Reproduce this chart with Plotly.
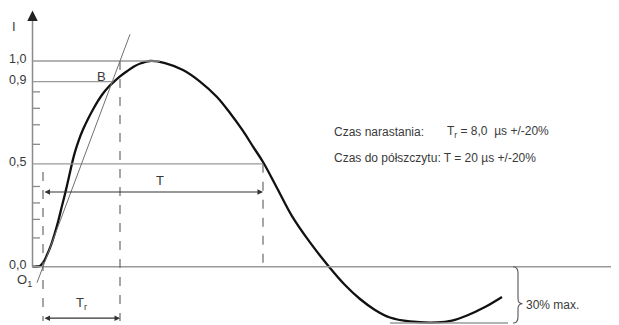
import plotly.graph_objects as go

# current waveform, time in arbitrary units with O1 at 0
wave_t = [-1.05, -0.6, -0.3, 0.05, 0.37, 0.8, 1.2, 1.55, 1.87, 2.15, 2.4, 2.65, 2.9, 3.2, 3.55,
          4.0, 4.5, 5.0, 5.5, 6.0, 6.5, 7.03, 7.7, 8.4, 9.1, 9.8, 10.7,
          12.2, 14.0, 15.7, 17.4, 18.7, 20.0, 21.0, 22.0, 23.4, 24.9, 26.7, 28.6, 30.2, 31.7,
          33.2, 34.7, 36.7, 39.4, 40.9, 42.4, 44.2, 45.9]
wave_i = [0.0, 0.001, 0.004, 0.023, 0.054, 0.105, 0.166, 0.227, 0.290, 0.344, 0.395, 0.448, 0.502, 0.558, 0.611,
          0.667, 0.718, 0.764, 0.806, 0.842, 0.871, 0.896, 0.925, 0.950, 0.973, 0.989, 1.0,
          0.990, 0.956, 0.900, 0.825, 0.747, 0.660, 0.584, 0.509, 0.383, 0.246, 0.118, 0.0, -0.089, -0.157,
          -0.210, -0.247, -0.266, -0.271, -0.262, -0.237, -0.196, -0.147]

level_values = [1.0, 0.9, 0.5, 0.0]
level_labels = ["1,0", "0,9", "0,5", "0,0"]
level_ends = [11.7, 7.03, 22.0, 57.6]
minor_ticks = [0.85, 0.77, 0.69, 0.595, 0.39, 0.31, 0.23, 0.14]

t_axis = -1.05
t_o1 = 0.0
t_b = 7.7
t_half = 22.0
i_min = -0.274
t_min_line = [34.7, 46.5]

X_RANGE = [-3.5, 57.6]
Y_RANGE = [-0.2834, 1.2577]
FONT = "Liberation Sans, Arial, sans-serif"
TXT = "#3a3a3a"
GREY = "#9a9a9a"
DASH = "#6a6a6a"

fig = go.Figure()

shapes = []
# axis
shapes.append(dict(type="line", x0=t_axis, x1=t_axis, y0=0, y1=1.215,
                   line=dict(color="#8a8a8a", width=1.5)))
# level lines
for v, end in zip(level_values, level_ends):
    shapes.append(dict(type="line", x0=t_axis, x1=end, y0=v, y1=v,
                       line=dict(color=GREY, width=1.6 if v == 0 else 1.4)))
# minor ticks
for v in minor_ticks:
    shapes.append(dict(type="line", x0=t_axis, x1=-0.3, y0=v, y1=v,
                       line=dict(color="#8a8a8a", width=1.3)))
# tangent through O1 and B
slope = 1.0 / (t_b - t_o1)
shapes.append(dict(type="line", x0=-0.6, x1=8.7, y0=slope * (-0.6 - t_o1), y1=slope * (8.7 - t_o1),
                   line=dict(color="#707070", width=1)))
# dashed verticals
for x, ya, yb in [(t_o1, 0.46, -0.264), (t_b, 1.0, -0.264), (t_half, 0.5, -0.016)]:
    shapes.append(dict(type="line", x0=x, x1=x, y0=ya, y1=yb,
                       line=dict(color=DASH, width=1.2, dash="dash")))
# grey line below minimum
shapes.append(dict(type="line", x0=t_min_line[0], x1=t_min_line[1], y0=i_min, y1=i_min,
                   line=dict(color=GREY, width=1.6)))
# brace for the 30% undershoot
bx, top, bot, tip = 47.5, 0.0, i_min, -0.18
brace = (f"M {bx-0.5},{top} Q {bx},{top} {bx},{top-0.03} L {bx},{tip+0.025} "
         f"Q {bx},{tip} {bx+0.45},{tip} Q {bx},{tip} {bx},{tip-0.025} "
         f"L {bx},{bot+0.03} Q {bx},{bot} {bx-0.5},{bot}")
shapes.append(dict(type="path", path=brace, line=dict(color="#555", width=1.1)))

fig.add_trace(go.Scatter(x=wave_t, y=wave_i, mode="lines",
                         line=dict(color="#111", width=2.3, shape="spline", smoothing=1.0),
                         hoverinfo="skip", showlegend=False))

ann = []
# axis arrow head
ann.append(dict(x=t_axis, y=1.245, ax=t_axis, ay=1.2, xref="x", yref="y", axref="x", ayref="y",
                text="", showarrow=True, arrowhead=2, arrowsize=1.4, arrowwidth=1.5,
                arrowcolor="#222", standoff=0))
# dimension arrows T and Tr
for y, x1 in [(0.363, t_half), (-0.25, t_b)]:
    ann.append(dict(x=x1, y=y, ax=t_o1, ay=y, xref="x", yref="y", axref="x", ayref="y",
                    text="", showarrow=True, arrowhead=2, arrowside="end+start",
                    arrowsize=1, arrowwidth=1.1, arrowcolor="#333", standoff=0, startstandoff=0))
# level labels, kept inside the paper (it starts 8px in from the window edge)
for v, lab in zip(level_values, level_labels):
    ann.append(dict(x=-1.55, y=v, text=lab, showarrow=False, xanchor="right", yshift=2,
                    font=dict(family=FONT, size=12.5, color=TXT)))


def label(x, y, text, size=13, xanchor="center"):
    ann.append(dict(x=x, y=y, text=text, showarrow=False, xanchor=xanchor,
                    font=dict(family=FONT, size=size, color=TXT)))


label(-2.9, 1.166, "I")
label(5.8, 0.927, "B")
label(-1.9, -0.065, "O<sub>1</sub>")
label(11.7, 0.421, "T")
label(3.8, -0.18, "T<sub>r</sub>")
label(28.9, 0.655, "Czas narastania:", 12, "left")
label(40.2, 0.655, "T<sub>r</sub> = 8,0  µs +/-20%", 12, "left")
label(28.9, 0.528, "Czas do półszczytu: T = 20 µs +/-20%", 12, "left")
label(48.1, -0.185, "30% max.", 12, "left")

# page body keeps an 8px margin, so the figure is 8px smaller and ranges start at px 8
fig.update_layout(
    width=611, height=317,
    margin=dict(l=0, r=0, t=0, b=0),
    plot_bgcolor="white", paper_bgcolor="white",
    xaxis=dict(range=X_RANGE, visible=False),
    yaxis=dict(range=Y_RANGE, visible=False),
    shapes=shapes, annotations=ann,
    showlegend=False,
)

fig.write_html("out.html")
